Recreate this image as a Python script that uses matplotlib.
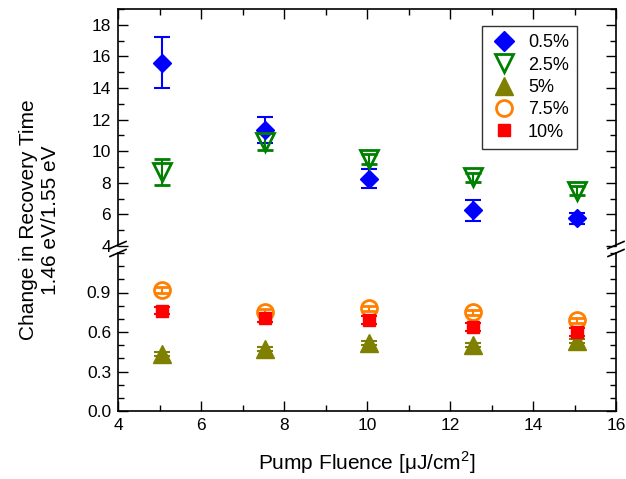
import matplotlib
matplotlib.use('Agg')
import matplotlib.pyplot as plt
from matplotlib.ticker import MultipleLocator, FixedLocator
from matplotlib.lines import Line2D

plt.rcParams['font.family'] = ['Liberation Sans', 'DejaVu Sans']
plt.rcParams['mathtext.fontset'] = 'custom'
plt.rcParams['mathtext.rm'] = 'Liberation Sans'

# fluence values (uJ/cm^2)
fluence = [5.05, 7.55, 10.05, 12.55, 15.05]

# upper panel series
c05 = [15.6, 11.35, 8.27, 6.25, 5.75]
c05_err = [1.6, 0.8, 0.63, 0.67, 0.35]
c25 = [8.68, 10.6, 9.5, 8.35, 7.5]
c25_err = [0.85, 0.55, 0.3, 0.3, 0.3]

# lower panel series
c5 = [0.43, 0.474, 0.515, 0.50, 0.53]
c5_err = [0.015, 0.015, 0.015, 0.015, 0.015]
c75 = [0.92, 0.753, 0.78, 0.75, 0.69]
c75_err = [0.02, 0.02, 0.02, 0.02, 0.02]
c10 = [0.763, 0.705, 0.69, 0.637, 0.60]
c10_err = [0.03, 0.03, 0.03, 0.03, 0.03]

labels = ['0.5%', '2.5%', '5%', '7.5%', '10%']

W, H = 626, 479
fig = plt.figure(figsize=(W / 100, H / 100), dpi=100)
left, right = 118 / W, 616 / W
ax_top = fig.add_axes([left, 1 - 246 / H, right - left, (246 - 9) / H])
ax_bot = fig.add_axes([left, 1 - 411 / H, right - left, (411 - 253) / H])

eb = dict(capsize=6, elinewidth=1.5, capthick=1.5, linestyle='none')

# 0.5%
ax_top.errorbar(fluence, c05, yerr=c05_err, fmt='D', color='blue', ms=9,
                mec='blue', **eb)
# 2.5%
ax_top.errorbar(fluence, c25, yerr=c25_err, fmt='v', color='green', ms=13,
                mfc='none', mec='green', mew=2, **eb)
# 5%
ax_bot.errorbar(fluence, c5, yerr=c5_err, fmt='^', color='olive', ms=13.5,
                mec='olive', **eb)
# 7.5%
ax_bot.errorbar(fluence, c75, yerr=c75_err, fmt='o', color='#ff8000', ms=11.5,
                mfc='none', mec='#ff8000', mew=2, **eb)
# 10%
ax_bot.errorbar(fluence, c10, yerr=c10_err, fmt='s', color='red', ms=8,
                mec='red', **eb)

for ax in (ax_top, ax_bot):
    ax.set_xlim(4, 16)
    ax.xaxis.set_major_locator(MultipleLocator(2))
    ax.xaxis.set_minor_locator(MultipleLocator(1))
    ax.tick_params(which='both', direction='in', left=True, right=True,
                   labelsize=12.5, width=1)
    ax.tick_params(which='major', length=7, pad=5)
    ax.tick_params(which='minor', length=4)
    for s in ax.spines.values():
        s.set_linewidth(1.2)

ax_top.set_ylim(4, 19)
ax_top.yaxis.set_major_locator(MultipleLocator(2))
ax_top.yaxis.set_minor_locator(MultipleLocator(1))
ax_top.spines['bottom'].set_visible(False)
ax_top.tick_params(which='both', bottom=False, top=True, labelbottom=False)

ax_bot.set_ylim(0, 1.2)
ax_bot.yaxis.set_major_locator(FixedLocator([0.0, 0.3, 0.6, 0.9]))
ax_bot.yaxis.set_minor_locator(MultipleLocator(0.1))
ax_bot.spines['top'].set_visible(False)
ax_bot.tick_params(which='both', top=False, bottom=True)
ax_bot.set_yticklabels(['0.0', '0.3', '0.6', '0.9'])
ax_bot.set_xlabel('Pump Fluence [\u03bcJ/cm$^2$]', fontsize=15, labelpad=12)

# break marks on the left and right spines
for ypix in (245, 253):
    for xpix in (118, 616):
        fig.add_artist(Line2D([(xpix - 8) / W, (xpix + 8) / W],
                              [1 - (ypix + 3.5) / H, 1 - (ypix - 3.5) / H],
                              color='black', lw=1.2))

fig.text(40 / W, 1 - 220 / H, 'Change in Recovery Time\n1.46 eV/1.55 eV',
         rotation=90, ha='center', va='center', multialignment='center',
         fontsize=15, linespacing=1.2)

handles = [
    Line2D([], [], marker='D', color='blue', ls='none', ms=10),
    Line2D([], [], marker='v', color='green', mfc='none', mew=2, ls='none', ms=13),
    Line2D([], [], marker='^', color='olive', ls='none', ms=13.5),
    Line2D([], [], marker='o', color='#ff8000', mfc='none', mew=2, ls='none', ms=11.5),
    Line2D([], [], marker='s', color='red', ls='none', ms=8),
]
leg = ax_top.legend(handles, labels, loc='upper right',
                    bbox_to_anchor=((577 - 118) / 498, (246 - 26) / 237),
                    borderaxespad=0, fontsize=13, frameon=True, fancybox=False,
                    edgecolor='black', handletextpad=0.5, labelspacing=0.3,
                    borderpad=0.45, handlelength=1.6)
leg.get_frame().set_linewidth(1)

fig.savefig('out.png', dpi=100)
